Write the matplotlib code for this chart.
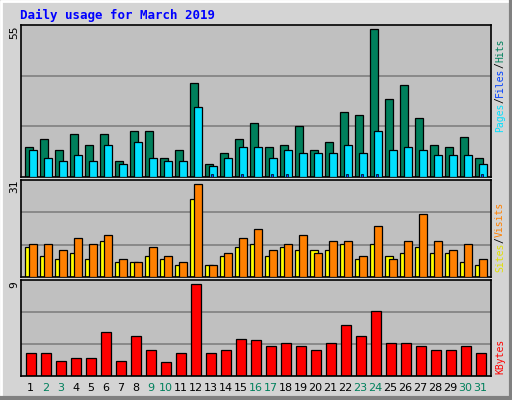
import matplotlib.pyplot as plt
import numpy as np

days = list(range(1, 32))
weekends = [2, 3, 9, 10, 16, 17, 23, 24, 30, 31]
hits = [11, 14, 10, 16, 12, 16, 6, 17, 17, 7, 10, 35, 5, 9, 14, 20, 11, 12, 19, 10, 13, 24, 23, 55, 29, 34, 22, 12, 11, 15, 7]
files = [10, 7, 6, 8, 6, 12, 5, 13, 7, 6, 6, 26, 4, 7, 11, 11, 7, 10, 9, 9, 9, 12, 9, 17, 10, 11, 10, 8, 8, 8, 5]
pages = [0, 0, 0, 0, 0, 0, 0, 0, 0, 0, 0, 0, 1, 0, 1, 0, 1, 1, 0, 0, 0, 1, 1, 1, 0, 0, 0, 0, 0, 0, 1]
sites = [10, 7, 6, 8, 6, 12, 5, 5, 7, 6, 4, 26, 4, 7, 10, 11, 7, 10, 9, 9, 9, 11, 6, 11, 7, 8, 10, 8, 8, 5, 4]
visits = [11, 11, 9, 13, 11, 14, 6, 5, 10, 7, 5, 31, 4, 8, 13, 16, 9, 11, 14, 8, 12, 12, 7, 17, 6, 12, 21, 12, 9, 11, 6]
kbytes = [2.2, 2.2, 1.5, 1.8, 1.8, 4.3, 1.5, 3.9, 2.5, 1.4, 2.2, 9, 2.2, 2.5, 3.6, 3.5, 2.9, 3.2, 2.9, 2.5, 3.2, 5.0, 3.9, 6.3, 3.2, 3.2, 2.9, 2.5, 2.5, 2.9, 2.2]

W, H = 512, 400
fig = plt.figure(figsize=(W / 100, H / 100), dpi=100)
fig.patch.set_facecolor('#d4d4d4')

def px_axes(x0, y0, x1, y1):
    return fig.add_axes([x0 / W, 1 - y1 / H, (x1 - x0) / W, (y1 - y0) / H])

x = np.array(days, dtype=float)
xlim = (1 - 0.29, 1 - 0.29 + 470 / 15)
mono = 'DejaVu Sans Mono'

def style(ax, ymax):
    ax.set_facecolor('#c0c0c0')
    ax.set_xlim(*xlim)
    ax.set_ylim(0, ymax)
    for v in (ymax / 3, 2 * ymax / 3):
        ax.axhline(v, color='#808080', lw=1.2, zorder=0)
    ax.set_xticks([])
    ax.set_yticks([])
    for s in ax.spines.values():
        s.set_color('black')
        s.set_linewidth(1.2)

ek = dict(edgecolor='black', linewidth=0.9)

ax1 = px_axes(21, 25, 491, 177)
ax1.bar(x, hits, width=0.49, align='edge', color='#00805c', zorder=2, **ek)
ax1.bar(x + 0.27, files, width=0.49, align='edge', color='#00e0ff', zorder=3, **ek)
ax1.bar(x + 0.4, pages, width=0.12, align='edge', color='#0040ff', zorder=4, edgecolor='black', linewidth=0.5)
style(ax1, 55 * 1.025)

ax2 = px_axes(21, 180, 491, 277)
ax2.bar(x, sites, width=0.49, align='edge', color='#ffff00', zorder=2, **ek)
ax2.bar(x + 0.27, visits, width=0.49, align='edge', color='#ff8000', zorder=3, **ek)
style(ax2, 31 * 1.04)

ax3 = px_axes(21, 280, 491, 376)
ax3.bar(x + 0.07, kbytes, width=0.67, align='edge', color='#ff0000', zorder=2, **ek)
style(ax3, 9 * 1.04)

fig.text(20 / W, 1 - 15 / H, 'Daily usage for March 2019', color='#0000ff', fontsize=9,
         fontweight='bold', family=mono, va='center', ha='left')

for val, yc in (('55', 32), ('31', 186), ('9', 285)):
    fig.text(14 / W, 1 - yc / H, val, rotation=90, fontsize=8, family=mono, ha='center', va='center')

for d in days:
    xc = 21 + (d - xlim[0] + 0.35) * 15
    fig.text(xc / W, 1 - 388 / H, str(d), fontsize=8, family='DejaVu Sans',
             color='#00805c' if d in weekends else 'black', ha='center', va='center')

side_fs = 7
char_px = 0.602 * side_fs * 100 / 72

def side(parts, ybottom):
    y = ybottom
    for txt, col in parts:
        fig.text(500 / W, 1 - y / H, txt, rotation=90, color=col, fontsize=side_fs,
                 family=mono, ha='center', va='bottom')
        y -= len(txt) * char_px

side([('Pages', '#00e0ff'), ('/', 'black'), ('Files', '#0040ff'), ('/', 'black'), ('Hits', '#00805c')], 132)
side([('Sites', '#e0e000'), ('/', 'black'), ('Visits', '#ff8000')], 272)
side([('KBytes', '#ff0000')], 374)

# 3D-ish frame
fig.add_artist(plt.Line2D([0.002, 0.002, 0.998], [0.002, 0.998, 0.998], color='white', lw=2, transform=fig.transFigure))
fig.add_artist(plt.Line2D([0.002, 0.998, 0.998], [0.004, 0.004, 0.998], color='#808080', lw=3, transform=fig.transFigure))

fig.savefig('out.png', dpi=100, facecolor=fig.get_facecolor())
